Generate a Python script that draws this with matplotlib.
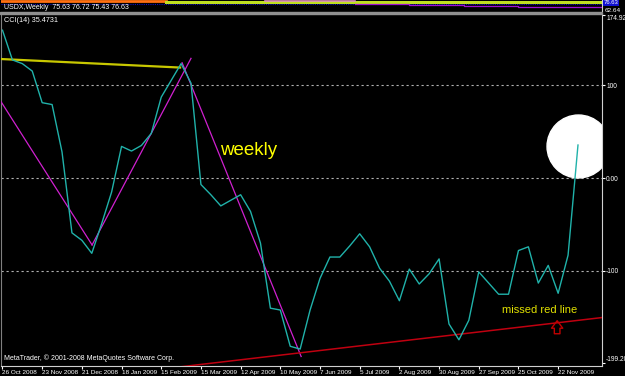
import matplotlib
matplotlib.use("Agg")
import matplotlib.pyplot as plt
from matplotlib.patches import Ellipse, Rectangle, FancyArrowPatch

plt.rcParams['font.family'] = ['Liberation Sans', 'DejaVu Sans']

# CCI(14) weekly values, one per bar starting 26 Oct 2008
cci = [159, 127, 123, 115, 81, 79, 28, -59, -67, -81,
       -49, -15, 34, 29, 35, 48, 87, 105, 123, 102,
       -7, -18, -30, -24, -18, -36, -70, -140, -142, -181,
       -184, -142, -108, -85, -85, -73, -60, -74, -97, -111,
       -132, -98, -114, -103, -87, -157, -174, -153, -101, -113,
       -125, -125, -78, -74, -113, -94, -124, -83, 35.4731]

date_labels = ['26 Oct 2008', '23 Nov 2008', '21 Dec 2008', '18 Jan 2009',
               '15 Feb 2009', '15 Mar 2009', '12 Apr 2009', '10 May 2009',
               '7 Jun 2009', '5 Jul 2009', '2 Aug 2009', '30 Aug 2009',
               '27 Sep 2009', '25 Oct 2009', '22 Nov 2009']
levels = [100, 0, -100]
yticks = [174.929, 100, 0, -100, -199.202]
ytick_labels = ['174.929', '100', '0.00', '-100', '-199.202']

# hand drawn trendlines (bar index, cci value)
yellow_x, yellow_y = [-0.2, 17.9], [128, 118.8]
magenta1_x, magenta1_y = [-0.2, 9.03], [83, -72]
magenta2_x, magenta2_y = [9.03, 19.0], [-72, 128.7]
magenta3_x, magenta3_y = [18.1, 30.1], [124, -192]
red_x, red_y = [18.0, 60.5], [-203, -150]

# squashed price window on top (bar index, level 0..1)
price_orange_x, price_orange_y = [-0.2, 16.5], [0.9, 0.9]
price_green_x, price_green_y = [16.5, 60.4], [0.82, 0.82]
price_pink_x, price_pink_y = [26.5, 35.5], [0.88, 0.88]
price_purple_x = [35.5, 41, 41, 46.5, 46.5, 52, 52, 60.4]
price_purple_y = [0.62, 0.62, 0.55, 0.55, 0.48, 0.48, 0.4, 0.4]

W, H = 625, 376
fig = plt.figure(figsize=(W / 100, H / 100), dpi=100, facecolor='black')

# ---- main CCI window
ax = fig.add_axes([0.5 / W, (H - 366) / H, 601.5 / W, 352 / H], facecolor='black')
x = list(range(len(cci)))
ax.set_xlim(-0.2, 60.42)
ax.set_ylim(-202.2, 176.4)

for lv in levels:
    ax.axhline(lv, color='#b0b0b0', lw=0.8, ls=(0, (2, 2.5)), zorder=1)

ax.add_patch(Ellipse((58.05, 33.9), 6.34, 67.7, color='white', zorder=2))

ax.plot(yellow_x, yellow_y, color='#c8c800', lw=1.6, zorder=3)
ax.plot(magenta1_x, magenta1_y, color='#d020d0', lw=0.9, zorder=3)
ax.plot(magenta2_x, magenta2_y, color='#d020d0', lw=0.9, zorder=3)
ax.plot(magenta3_x, magenta3_y, color='#d020d0', lw=0.9, zorder=3)
ax.plot(red_x, red_y, color='#c00010', lw=1.1, zorder=3)
ax.plot(x, cci, color='#20b2aa', lw=1.0, zorder=4)

ax.text(21.95, 30, 'weekly', color='#ffff00', fontsize=13.5, va='center', ha='left')
ax.text(50.35, -142, 'missed red line', color='#e0e000', fontsize=8, va='center', ha='left')
arrow = FancyArrowPatch((55.9, -167.5), (55.9, -153.5),
                        arrowstyle='simple,head_width=0.9,head_length=0.6,tail_width=0.45',
                        mutation_scale=9, fc='none', ec='#c00000', lw=1.0,
                        shrinkA=0, shrinkB=0, zorder=5)
ax.add_patch(arrow)

ax.text(4 / 601.5, 1 - 7 / 352, 'CCI(14) 35.4731', transform=ax.transAxes,
        color='white', fontsize=5.2, va='center', ha='left')
ax.text(4 / 601.5, 8 / 352, 'MetaTrader, \u00a9 2001-2008 MetaQuotes Software Corp.',
        transform=ax.transAxes, color='white', fontsize=5.0, va='center', ha='left')

ax.yaxis.tick_right()
ax.set_yticks(yticks)
ax.set_yticklabels(ytick_labels)
ax.set_xticks(range(0, 4 * len(date_labels), 4))
ax.set_xticklabels(date_labels, ha='left')
ax.tick_params(axis='y', colors='white', labelsize=4.8, length=2, width=0.8, pad=1)
ax.tick_params(axis='x', colors='white', labelsize=4.6, length=2, width=0.8, pad=1)
ylabs = ax.get_yticklabels()
ylabs[0].set_va('top')
ylabs[-1].set_va('bottom')
ax.spines['top'].set_visible(False)
ax.spines['right'].set_color('#d0d0d0')
ax.spines['bottom'].set_color('#d0d0d0')
ax.spines['left'].set_color('#808080')

# ---- separator between windows
fig.add_artist(Rectangle((0, (H - 14) / H), 602 / W, 2 / H, transform=fig.transFigure,
                         color='#909090'))

# ---- price window on top
pax = fig.add_axes([0.5 / W, (H - 11) / H, 601.5 / W, 11 / H], facecolor='black')
pax.set_xlim(-0.2, 60.42)
pax.set_ylim(0, 1)
pax.axhline(0.6, color='#1010c0', lw=0.8, ls=(0, (1, 1)))
pax.plot(price_orange_x, price_orange_y, color='#ff7010', lw=2.0)
pax.plot(price_green_x, price_green_y, color='#c0e020', lw=2.2)
pax.plot(price_pink_x, price_pink_y, color='#e090c0', lw=1.2)
pax.plot(price_purple_x, price_purple_y, color='#a010d0', lw=0.9)
pax.set_xticks([])
pax.set_yticks([])
for side in pax.spines:
    pax.spines[side].set_visible(False)
pax.spines['right'].set_visible(True)
pax.spines['right'].set_color('#d0d0d0')
pax.text(3 / 601.5, 0.35, 'USDX,Weekly  75.63 76.72 75.43 76.63', transform=pax.transAxes,
         color='white', fontsize=5.0, va='center', ha='left')

fig.text(605 / W, 1 - 10.5 / H, '62.64', color='white', fontsize=4.6, va='center', ha='left')
fig.text(604 / W, 1 - 3 / H, '76.63', color='white', fontsize=4.3, va='center', ha='left',
         bbox=dict(boxstyle='square,pad=0.1', fc='#1010d0', ec='none'))

fig.savefig('out.png', dpi=100, facecolor='black')
